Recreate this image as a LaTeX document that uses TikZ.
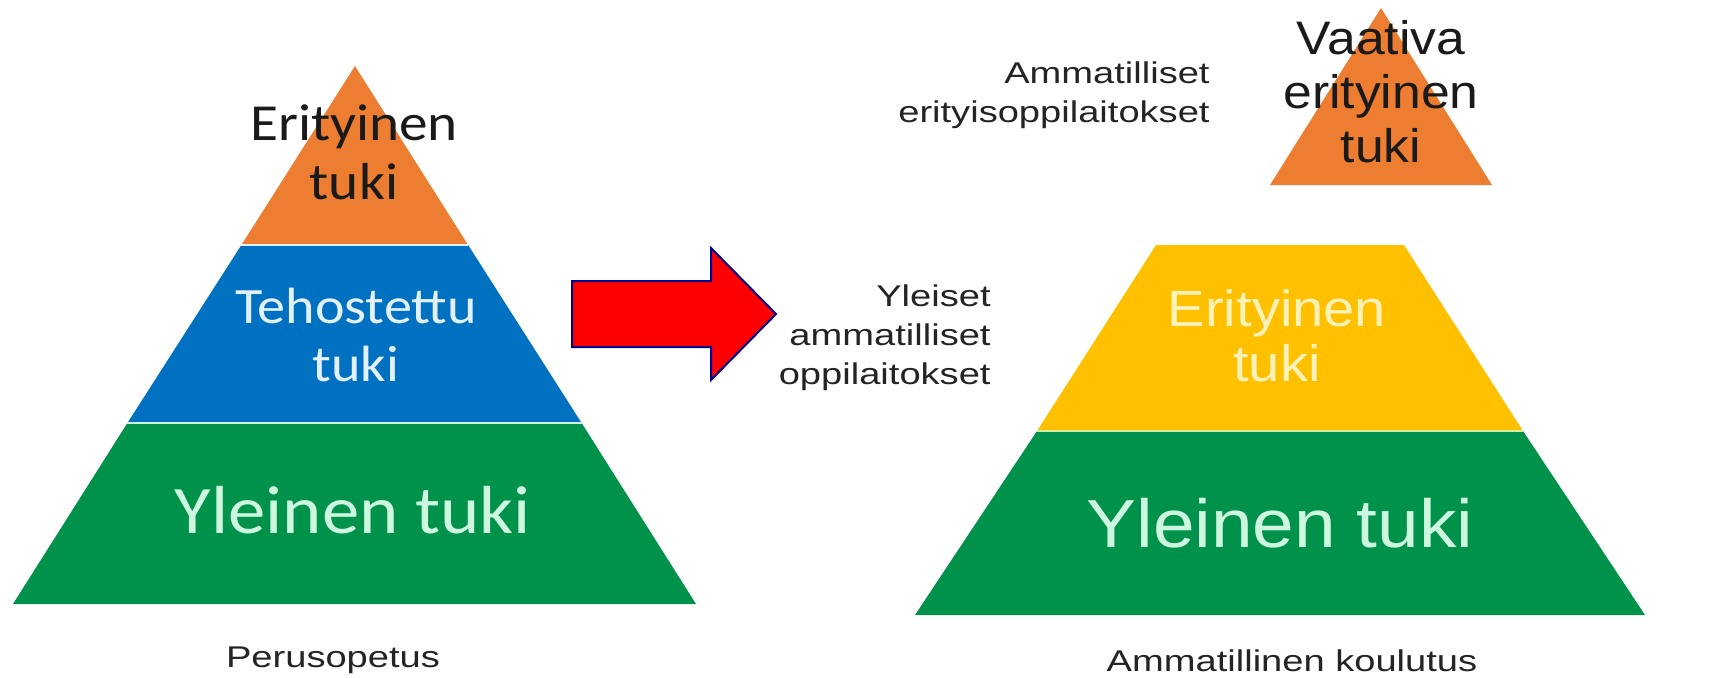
\documentclass[tikz,border=0pt]{standalone}
\usepackage{fontspec}
\setmainfont{Liberation Sans}
\newfontfamily\calib[FakeStretch=1.1]{Carlito}
\newfontfamily\arialw[FakeStretch=1.1]{Liberation Sans}
\newfontfamily\labelw[FakeStretch=1.27]{Liberation Sans}
\definecolor{orangeT}{HTML}{ED7D31}
\definecolor{blueT}{HTML}{0070C0}
\definecolor{greenT}{HTML}{00924A}
\definecolor{yellowT}{HTML}{FFC000}
\definecolor{navyE}{HTML}{00008B}
\definecolor{skyW}{HTML}{E2F0FF}
\definecolor{mintW}{HTML}{CDF7DF}
\definecolor{creamW}{HTML}{FFF2B8}
\definecolor{inkT}{HTML}{1A1A1A}
\definecolor{labelgray}{HTML}{242424}

\begin{document}
\begin{tikzpicture}[x=0.5pt, y=-0.5pt,
    tier/.style={align=center, inner sep=0pt},
    note/.style={align=right, inner sep=0pt, text=labelgray, font=\labelw\fontsize{15}{19.5}\selectfont},
    sep/.style={line width=0.8pt}]
    \useasboundingbox (0,0) rectangle (1728,677);

    \fill[orangeT] (355,66) -- (468.1,245) -- (241.4,245) -- cycle;
    \fill[blueT] (241.4,245) -- (468.1,245) -- (581.6,423) -- (127.4,423) -- cycle;
    \fill[greenT] (127.4,423) -- (581.6,423) -- (696,604) -- (13,604) -- cycle;
    \draw[sep, skyW] (241.4,245) -- (468.1,245);
    \draw[sep, mintW] (127.4,423) -- (581.6,423);

    \fill[orangeT] (1381,8) -- (1492,185) -- (1270,185) -- cycle;
    \fill[yellowT] (1156,245) -- (1404,245) -- (1523,431) -- (1037,431) -- cycle;
    \fill[greenT] (1037,431) -- (1523,431) -- (1645,615) -- (915,615) -- cycle;
    \draw[sep, yellow!60!green!40] (1037,431) -- (1523,431);

    \draw[fill=red, draw=navyE, line width=1pt] (572,281) -- (711,281) -- (711,248) -- (776,314)
        -- (711,380) -- (711,347) -- (572,347) -- cycle;

    \node[tier, text=inkT, font=\calib\fontsize{26}{29.5}\selectfont] (lspecial) at (354,152) {Erityinen\\tuki};
    \node[tier, text=skyW, font=\calib\fontsize{25.5}{29}\selectfont] (lintense) at (356,335) {Tehostettu\\tuki};
    \node[tier, text=mintW, font=\calib\fontsize{34}{40}\selectfont] (lgeneral) at (353,510) {Yleinen tuki};

    \node[tier, text=inkT, font=\arialw\fontsize{23.5}{27}\selectfont] (rdemanding) at (1381,92) {Vaativa\\erityinen\\tuki};
    \node[tier, text=creamW, font=\arialw\fontsize{25.5}{27.5}\selectfont] (rspecial) at (1277,336) {Erityinen\\tuki};
    \node[tier, text=mintW, font=\arialw\fontsize{34}{40}\selectfont] (rgeneral) at (1280,523) {Yleinen tuki};

    \node[note, anchor=east] (special) at (1210,95) {Ammatilliset\\erityisoppilaitokset};
    \node[note, anchor=east] (general) at (991,338) {Yleiset\\ammatilliset\\oppilaitokset};
    \node[note] (basic) at (333,660) {Perusopetus};
    \node[note] (vocational) at (1292,661) {Ammatillinen koulutus};
\end{tikzpicture}
\end{document}
